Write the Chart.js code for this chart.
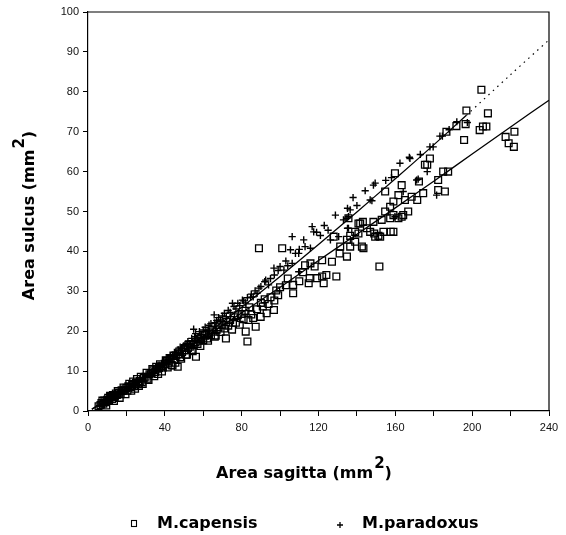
<!DOCTYPE html>
<html>
<head>
<meta charset="utf-8">
<script src="https://cdn.jsdelivr.net/npm/chart.js@4.4.1/dist/chart.umd.min.js"></script>
<style>
  html, body { margin: 0; padding: 0; background: #fff; }
</style>
</head>
<body>
<canvas id="chart" width="566" height="535"></canvas>
<script>
// M.capensis (squares)
const capX = [
  5.5, 6.5, 7, 8, 8.5, 9, 10, 10.5, 11, 12,
  12.5, 13, 14, 14.5, 15, 16, 17, 17.5, 18, 19,
  20, 20.5, 21, 22, 23, 24, 25, 26, 27, 28,
  29, 30, 31, 32, 33, 34, 35, 36, 37, 38,
  39, 40, 41, 42, 43, 44, 45, 46, 46.7, 47,
  48, 49, 50, 51, 52, 53, 54, 55, 56.2, 56,
  57, 58, 59, 60, 61, 62, 63, 64, 65, 66,
  67, 68, 69, 70, 71, 71.8, 72, 73, 74, 75,
  76, 77, 78, 79, 80, 81, 82.1, 82, 83, 83.5,
  84, 85, 86, 87.3, 88, 89.9, 90, 91, 92, 93,
  94, 95, 96.8, 97, 98, 99, 100, 103, 104, 110,
  112, 113, 118, 89, 101.1, 115.8, 121.9, 115.4, 119.3, 121.9,
  124.1, 129.3, 114.9, 122.7, 106.8, 106.8, 127, 127.9, 131, 134.8,
  136.5, 140.8, 140.8, 135.6, 131.3, 143.1, 145.2, 149, 151.2, 139.1,
  143.4, 136.5, 134.8, 154.7, 159, 161.6, 164.1, 175.4, 186.6, 178,
  176.6, 159.8, 163.3, 172.3, 159, 161.6, 165, 168.5, 171.4, 174.5,
  154.7, 166.7, 163.3, 157.3, 152.9, 157.3, 182.3, 182.3, 185.8, 184.9,
  187.5, 153.8, 157.6, 148.6, 146.9, 149.5, 152.1, 141.7, 139.1, 142.6,
  151.7, 159, 204.8, 197, 208.2, 196.6, 203.9, 207.4, 205.6, 191.8,
  195.8, 217.4, 222, 219, 221.7,
  7.5, 9.5, 11.5, 13.5, 15.5, 16.5, 18.5, 19.5, 21.5, 22.5,
  23.5, 24.5, 25.5, 26.5, 27.5, 28.5, 30.5, 31.5, 33.5, 34.5,
  35.5, 36.5, 37.5, 38.5, 40.5, 41.5, 42.5, 43.5, 44.5, 45.5,
  47.5, 48.5, 50.5, 51.5, 53.5, 54.5, 57.5, 58.5, 60.5, 62.5,
  64.5, 66.5, 68.5
];
const capY = [
  1.2, 1.5, 2, 1.8, 2.6, 2.2, 2.8, 3.3, 2.6, 3.5,
  3, 4, 3.6, 4.4, 4, 4.6, 4.2, 5.2, 5, 5.4,
  5.8, 5.1, 6.2, 6, 6.6, 6.2, 7.1, 6.8, 7.5, 7.2,
  8.3, 8.6, 8.1, 9.2, 9.5, 10.2, 9.8, 10.6, 10.8, 11.2,
  10.9, 11.8, 12.6, 12.1, 13, 11.4, 12.9, 13.9, 11.1, 14.2,
  13.5, 14.8, 15.2, 14.1, 15.8, 16.1, 15.3, 16.5, 13.6, 17.2,
  16.8, 17.6, 18.4, 17.7, 18.9, 18.2, 19.5, 19, 19.9, 18.6,
  20.4, 21, 19.8, 21.6, 20.7, 18.2, 22.3, 21.4, 22.8, 20.4,
  23.5, 22.1, 24, 21.6, 24.3, 23, 19.9, 25.1, 17.4, 22.8,
  26, 24.2, 23.3, 21.1, 25.5, 23.6, 27.1, 26.2, 28, 24.5,
  26.8, 28.5, 25.3, 27.7, 30.2, 29, 31, 31.5, 33.2, 32.5,
  34.8, 36.5, 36.2, 40.8, 40.8, 37, 37.8, 33.3, 33.3, 33.7,
  34.1, 33.7, 32, 32, 31.6, 29.5, 37.4, 43.7, 39.5, 38.7,
  41.2, 47, 44.5, 48.3, 41.2, 47.4, 45.8, 44.5, 43.9, 44.9,
  40.8, 43.9, 42.9, 50, 49.1, 48.3, 49.1, 61.7, 70, 63.3,
  61.7, 59.6, 56.6, 57.5, 52.5, 54.1, 52.9, 53.7, 52.9, 54.6,
  55, 50, 48.7, 51.2, 47.9, 48.3, 57.9, 55.4, 55, 60,
  60, 44.9, 44.9, 47.4, 44.9, 43.7, 43.7, 47, 42.4, 41.2,
  36.2, 44.9, 80.5, 75.3, 74.6, 71.9, 70.4, 71.3, 71.3, 71.4,
  67.9, 68.7, 70, 67.1, 66.2,
  2.6, 1.4, 3.8, 2.5, 5.0, 3.3, 5.9, 4.2, 6.8, 5.1,
  7.4, 5.6, 8.0, 6.3, 8.6, 6.8, 9.6, 7.8, 10.5, 8.7,
  11.1, 9.3, 11.7, 9.9, 12.7, 10.9, 13.3, 11.5, 13.9, 12.1,
  14.9, 13.1, 15.8, 14.1, 16.8, 15.0, 18.1, 16.3, 19.1, 17.6,
  20.3, 18.9, 21.6
];

// M.paradoxus (plus signs)
const parX = [
  6, 7.5, 8.5, 9.5, 10.5, 11, 12, 13, 13.5, 14.5,
  15.5, 16, 17, 18, 19, 20, 21, 22, 23, 24,
  25, 26, 27, 28, 29, 30, 31, 32, 33, 34,
  35, 36, 37, 38, 39, 40, 41, 42, 43, 44,
  45, 46, 47, 48, 49, 50, 51, 52, 53, 54,
  55, 55.5, 56, 57, 58, 59, 60, 61, 62, 63,
  64, 65.7, 66, 67, 68, 69, 70, 71, 72, 73,
  74, 75.2, 76, 77, 78, 79, 80.4, 81, 82, 83,
  84.7, 85, 86, 87, 88, 89, 90, 92, 94, 95,
  97, 99, 100, 103, 104, 110, 113, 119, 121, 123,
  125, 140, 138, 155, 158, 173, 188, 192, 128.8, 135.1,
  116.7, 117.5, 106.3, 112.3, 130.5, 135.1, 105.4, 108, 109.7, 115.8,
  96.8, 102, 106.3, 109.7, 92.5, 126.2, 136.5, 144.3, 148.6, 162.4,
  167.6, 178, 183.2, 176.6, 171.9, 181.5, 146.9, 135.6, 133, 135.6,
  164.1, 159.8, 149.5, 147.8, 167.3, 197.5, 184.5, 179.7, 134.8, 171.1
];
const parY = [
  1.4, 1.9, 1.6, 2.4, 2.2, 2.9, 2.6, 3.3, 3.8, 3.4,
  4.2, 4.6, 4.3, 5, 5.4, 5, 5.9, 6.2, 6.6, 6.3,
  7.1, 7.5, 7.9, 7.6, 8.4, 8.7, 9.1, 9.5, 9.2, 10.3,
  10.5, 11, 11.5, 11.2, 12, 12.6, 12.2, 13.3, 13.8, 14,
  14.7, 14.3, 15.3, 16, 15.6, 16.4, 16.9, 17.4, 16.8, 18.2,
  20.5, 18.6, 19.4, 18.3, 19.9, 19.1, 20.3, 21, 20.2, 21.5,
  21.9, 24.1, 22.1, 22.7, 23.4, 22.8, 23.8, 24.5, 23.6, 25.2,
  24.7, 27, 26.2, 25.6, 27, 26.4, 27.8, 27.6, 27.1, 28.4,
  28.5, 29.3, 28.6, 30.1, 29.5, 30.8, 31.2, 32.4, 31.6, 33.2,
  34.1, 35.2, 36.2, 37.6, 36.4, 40.5, 41.2, 44.8, 44, 46.5,
  45.3, 51.5, 53.5, 57.8, 58.5, 64.3, 70.5, 72.5, 49.1, 50.8,
  46.2, 44.9, 43.7, 42.9, 43.7, 45.8, 40.4, 39.5, 39.5, 40.8,
  35.8, 35.3, 37, 34.9, 32.8, 42.9, 50.4, 55.2, 56.6, 62.1,
  63.3, 66.2, 68.9, 60, 58.1, 54.1, 52.9, 48.7, 47.9, 45.8,
  55, 48.7, 57.1, 52.7, 63.6, 72.3, 68.9, 66.2, 48.3, 57.9
];

// fitted curves
const capFitX = [2, 20, 40, 60, 80, 100, 120, 140, 160, 180, 200, 220, 240];
const capFitY = [0.5, 5.7, 11.9, 18.3, 24.6, 31.0, 37.7, 44.3, 50.9, 57.6, 64.4, 71.2, 77.9];
const parFitX = [2, 20, 40, 60, 80, 100, 120, 140, 160, 180, 197];
const parFitY = [0.4, 5.2, 11.7, 18.7, 26.0, 33.7, 41.7, 49.9, 58.2, 66.7, 74.1];
const parExtX = [197, 220, 240];
const parExtY = [74.1, 84.3, 93.0];

const xLabels = [0, 40, 80, 120, 160, 200, 240];
const yLabels = [0, 10, 20, 30, 40, 50, 60, 70, 80, 90, 100];

function pts(xs, ys) {
  return xs.map((x, i) => ({ x: x, y: ys[i] }));
}

const FONT = '"Liberation Sans", Arial, sans-serif';
const BOLD = '"DejaVu Sans", sans-serif';

// draws a string with a raised "2", centred on the origin
function supText(ctx, before, sup, after, size) {
  const supSize = Math.round(size * 0.95);
  ctx.font = 'bold ' + size + 'px ' + BOLD;
  const w1 = ctx.measureText(before).width;
  const w3 = ctx.measureText(after).width;
  ctx.font = 'bold ' + supSize + 'px ' + BOLD;
  const w2 = ctx.measureText(sup).width;
  const total = w1 + w2 + w3 + 1;
  let x = -total / 2;
  ctx.textAlign = 'left';
  ctx.textBaseline = 'alphabetic';
  ctx.font = 'bold ' + size + 'px ' + BOLD;
  ctx.fillText(before, x, 0);
  x += w1 + 1;
  ctx.font = 'bold ' + supSize + 'px ' + BOLD;
  ctx.fillText(sup, x, -size * 0.6);
  x += w2;
  ctx.font = 'bold ' + size + 'px ' + BOLD;
  ctx.fillText(after, x, 0);
}

const decor = {
  id: 'decor',
  afterDatasetsDraw(chart) {
    const ctx = chart.ctx;
    const a = chart.chartArea;
    ctx.save();
    ctx.strokeStyle = '#000';
    ctx.lineWidth = 1.2;
    ctx.beginPath();
    ctx.moveTo(a.left, a.top);
    ctx.lineTo(a.right, a.top);
    ctx.lineTo(a.right, a.bottom);
    ctx.stroke();
    ctx.restore();
  },
  afterDraw(chart) {
    const ctx = chart.ctx;
    const a = chart.chartArea;
    ctx.save();
    ctx.fillStyle = '#000';

    // x title
    ctx.save();
    ctx.translate(304, 478);
    supText(ctx, 'Area sagitta (mm', '2', ')', 16);
    ctx.restore();

    // y title
    ctx.save();
    ctx.translate(34, (a.top + a.bottom) / 2 + 4);
    ctx.rotate(-Math.PI / 2);
    supText(ctx, 'Area sulcus (mm', '2', ')', 16);
    ctx.restore();

    // legend
    const ly = 524;
    ctx.strokeStyle = '#000';
    ctx.lineWidth = 1.1;
    ctx.strokeRect(131.5, ly - 3.5, 5, 6);
    ctx.lineWidth = 1.3;
    ctx.beginPath();
    ctx.moveTo(337, ly + 1); ctx.lineTo(343, ly + 1);
    ctx.moveTo(340, ly - 2); ctx.lineTo(340, ly + 4);
    ctx.stroke();
    ctx.font = 'bold 16px ' + BOLD;
    ctx.textAlign = 'left';
    ctx.textBaseline = 'middle';
    ctx.fillText(chart.data.datasets[0].label, 157, ly);
    ctx.fillText(chart.data.datasets[1].label, 362, ly);
    ctx.restore();
  }
};

const ctx = document.getElementById('chart').getContext('2d');
const myChart = new Chart(ctx, {
  type: 'scatter',
  data: {
    datasets: [
      {
        label: 'M.capensis',
        data: pts(capX, capY),
        pointStyle: 'rect',
        pointRadius: 4.8,
        pointBorderWidth: 1.3,
        borderColor: '#000',
        backgroundColor: 'rgba(0,0,0,0)',
        order: 2
      },
      {
        label: 'M.paradoxus',
        data: pts(parX, parY),
        pointStyle: 'cross',
        pointRadius: 3.6,
        pointBorderWidth: 1.4,
        borderColor: '#000',
        backgroundColor: '#000',
        order: 1
      },
      {
        label: 'capensis fit',
        type: 'line',
        data: pts(capFitX, capFitY),
        borderColor: '#000',
        borderWidth: 1.3,
        pointRadius: 0,
        tension: 0.3,
        fill: false
      },
      {
        label: 'paradoxus fit',
        type: 'line',
        data: pts(parFitX, parFitY),
        borderColor: '#000',
        borderWidth: 1.3,
        pointRadius: 0,
        tension: 0.3,
        fill: false
      },
      {
        label: 'paradoxus extrapolation',
        type: 'line',
        data: pts(parExtX, parExtY),
        borderColor: '#000',
        borderWidth: 1.2,
        borderDash: [1.5, 4.5],
        pointRadius: 0,
        tension: 0.3,
        fill: false
      }
    ]
  },
  options: {
    responsive: false,
    animation: false,
    devicePixelRatio: 1,
    layout: { padding: { top: 12, right: 17, left: 0, bottom: 0 } },
    plugins: {
      legend: { display: false },
      tooltip: { enabled: false }
    },
    scales: {
      x: {
        type: 'linear',
        min: 0,
        max: 240,
        ticks: {
          stepSize: 20,
          color: '#111',
          font: { family: FONT, size: 11 },
          padding: 5,
          maxRotation: 0,
          callback: (v) => xLabels.includes(v) ? String(v) : ''
        },
        grid: { drawOnChartArea: false, drawTicks: true, tickLength: 5, color: '#000', lineWidth: 1 },
        border: { color: '#000', width: 1.2 },
        afterFit: (s) => { s.height = 124; }
      },
      y: {
        type: 'linear',
        min: 0,
        max: 100,
        ticks: {
          stepSize: 10,
          color: '#111',
          font: { family: FONT, size: 11 },
          padding: 4,
          callback: (v) => yLabels.includes(v) ? String(v) : ''
        },
        grid: { drawOnChartArea: false, drawTicks: true, tickLength: 5, color: '#000', lineWidth: 1 },
        border: { color: '#000', width: 1.2 },
        afterFit: (s) => { s.width = 88; }
      }
    }
  },
  plugins: [decor]
});
</script>
</body>
</html>
